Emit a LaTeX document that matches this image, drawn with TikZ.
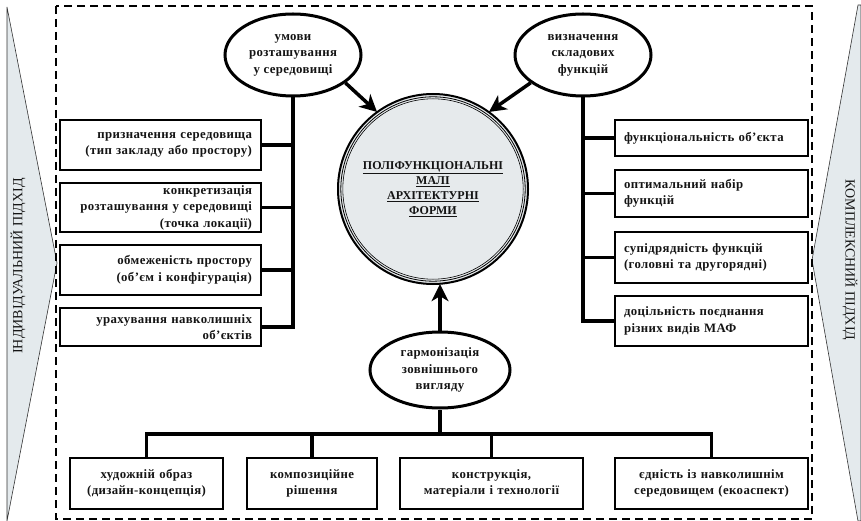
\documentclass[tikz,border=0pt]{standalone}
\usepackage{fontspec}
\setmainfont{Liberation Serif}
\usetikzlibrary{arrows.meta,shapes.geometric}
\definecolor{wedge}{HTML}{E4EAED}
\definecolor{core}{HTML}{E6EAEC}
\definecolor{ink}{HTML}{141414}
\begin{document}
\begin{tikzpicture}[x=1pt,y=-1pt,
  every node/.style={font=\bfseries\fontsize{12.8}{16.5}\selectfont\addfontfeature{LetterSpace=3}, text=ink},
  lbox/.style={draw, line width=1.8pt, text width=183pt, align=right, inner xsep=9pt, inner ysep=0pt, minimum height=#1},
  rbox/.style={draw, line width=1.8pt, text width=175pt, align=left, inner xsep=9pt, inner ysep=0pt, minimum height=#1},
  bbox/.style 2 args={draw, line width=1.8pt, text width=#1, align=center, inner xsep=4pt, inner ysep=0pt, minimum height=#2},
  oval/.style={draw, ellipse, line width=3pt, minimum width=136pt, minimum height=82pt, inner sep=0pt, align=center, fill=white},
  conn/.style={line width=3.5pt},
  arr/.style={line width=3.5pt, -{Stealth[length=17pt,width=17pt,inset=5pt]}},
  side/.style={font=\fontsize{14}{16}\selectfont, text=ink}
]
\useasboundingbox (0,0) rectangle (861,521);
% side wedges
\draw[fill=wedge, draw=black!80, line width=0.6pt] (7,7) -- (57,263) -- (7,521) -- cycle;
\draw[fill=wedge, draw=black!80, line width=0.6pt] (858,5) -- (812,260) -- (858,521) -- (861,521) -- (861,5) -- cycle;
\node[side, rotate=90] (ls) at (18,266) {ІНДИВІДУАЛЬНИЙ ПІДХІД};
\node[side, rotate=-90] (rs) at (850,260) {КОМПЛЕКСНИЙ ПІДХІД};
% dashed frame
\draw[line width=1.8pt, dash pattern=on 8pt off 5pt] (56,6) rectangle (812,519);

% central circle
\node[circle, fill=core, minimum size=190pt, inner sep=0pt, align=center,
      font=\bfseries\fontsize{12}{15}\selectfont] (c) at (433,189)
  {\underline{ПОЛІФУНКЦІОНАЛЬНІ}\\\underline{МАЛІ}\\\underline{АРХІТЕКТУРНІ}\\\underline{ФОРМИ}};
\draw[line width=2pt] (c.center) circle[radius=95pt];
\draw[line width=0.8pt] (c.center) circle[radius=92.2pt];
\draw[line width=0.6pt] (c.center) circle[radius=90.2pt];

% ellipses
\node[oval] (e1) at (293,55) {умови\\розташування\\у середовищі};
\node[oval] (e2) at (583,55) {визначення\\складових\\функцій};
\node[oval, minimum width=140pt, minimum height=76pt] (e3) at (440,370) {гармонізація\\зовнішнього\\вигляду};

% left boxes
\node[lbox=50pt] (l1) at (160.5,145) {призначення середовища\\(тип закладу або простору)};
\node[lbox=49pt] (l2) at (160.5,207.5) {конкретизація\\розташування у середовищі\\(точка локації)};
\node[lbox=50pt] (l3) at (160.5,270) {обмеженість простору\\(об’єм і конфігурація)};
\node[lbox=38pt] (l4) at (160.5,327) {урахування навколишніх\\об’єктів};

% right boxes
\node[rbox=36pt] (r1) at (711.5,138) {функціональність об’єкта};
\node[rbox=47pt] (r2) at (711.5,193.5) {оптимальний набір\\функцій};
\node[rbox=51pt] (r3) at (711.5,257.5) {супідрядність функцій\\(головні та другорядні)};
\node[rbox=50pt] (r4) at (711.5,321) {доцільність поєднання\\різних видів МАФ};

% bottom boxes
\node[bbox={145pt}{51pt}] (b1) at (146.5,483.5) {художній образ\\(дизайн-концепція)};
\node[bbox={122pt}{51pt}] (b2) at (312,483.5) {композиційне\\рішення};
\node[bbox={175pt}{51pt}] (b3) at (491.5,483.5) {конструкція,\\матеріали і технології};
\node[bbox={185pt}{51pt}] (b4) at (711.5,483.5) {єдність із навколишнім\\середовищем (екоаспект)};

% left trunk
\draw[conn] (e1.south) -- (e1.south |- l4.east) -- (l4.east);
\foreach \b in {l1,l2,l3} \draw[conn] (\b.east) -- (\b.east -| e1.south);
% right trunk
\draw[conn] (e2.south) -- (e2.south |- r4.west) -- (r4.west);
\foreach \b in {r1,r2,r3} \draw[conn] (\b.west) -- (\b.west -| e2.south);
% bottom bus
\coordinate (bus) at (440,434);
\draw[conn] (e3.south) -- (e3.south |- bus);
\draw[conn] (b1.north) -- (b1.north |- bus) -- (b4.north |- bus) -- (b4.north);
\draw[conn] (b2.north) -- (b2.north |- bus);
\draw[conn] (b3.north) -- (b3.north |- bus);

% arrows
\draw[arr] (e1.-28) -- (c.126);
\draw[arr] (e2.-152) -- (c.54);
\draw[arr] (e3.north) -- (e3.north |- c.south);
\end{tikzpicture}
\end{document}
